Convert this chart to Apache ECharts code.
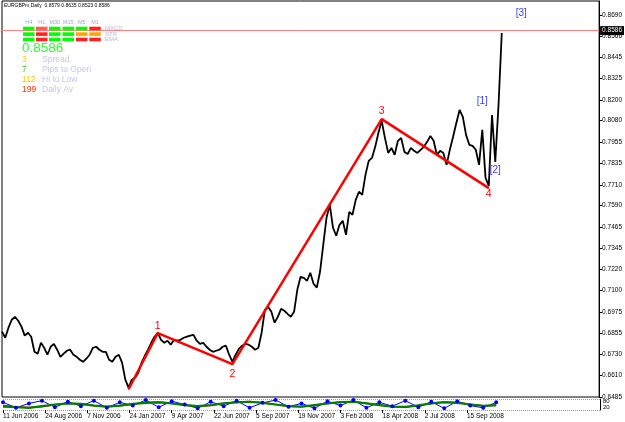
<!DOCTYPE html>
<html>
<head>
<meta charset="utf-8">
<script src="https://cdn.jsdelivr.net/npm/echarts@6.0.0/dist/echarts.min.js"></script>
<style>
  html, body { margin: 0; padding: 0; background: #fff; }
  #main { width: 625px; height: 422px; }
</style>
</head>
<body>
<div id="main"></div>
<script>
// EURGBP daily closes, one value every 4 trading days
var closes = [
  0.6862, 0.6827, 0.6885, 0.6931, 0.6948, 0.6925, 0.6891, 0.6839, 0.6856, 0.6833,
  0.6746, 0.6735, 0.6798, 0.6769, 0.6729, 0.6775, 0.6792, 0.6758, 0.6717, 0.6735,
  0.6752, 0.6758, 0.6729, 0.6717, 0.6700, 0.6688, 0.6706, 0.6729, 0.6769, 0.6775,
  0.6758, 0.6746, 0.6746, 0.6700, 0.6688, 0.6717, 0.6729, 0.6683, 0.6585, 0.6539,
  0.6585, 0.6596, 0.6625, 0.6683, 0.6723, 0.6758, 0.6798, 0.6833, 0.6856, 0.6815,
  0.6798, 0.6810, 0.6787, 0.6815, 0.6810, 0.6815, 0.6827, 0.6833, 0.6839, 0.6844,
  0.6810, 0.6792, 0.6798, 0.6775, 0.6758, 0.6746, 0.6752, 0.6758, 0.6775, 0.6781,
  0.6729, 0.6688, 0.6729, 0.6763, 0.6781, 0.6792, 0.6787, 0.6775, 0.6758, 0.6769,
  0.6856, 0.6988, 0.7006, 0.6977, 0.6914, 0.6948, 0.6994, 0.6983, 0.6965, 0.6948,
  0.6977, 0.7104, 0.7179, 0.7173, 0.7156, 0.7202, 0.7139, 0.7116, 0.7208, 0.7364,
  0.7520, 0.7595, 0.7462, 0.7416, 0.7479, 0.7502, 0.7421, 0.7554, 0.7537, 0.7623,
  0.7670, 0.7652, 0.7767, 0.7848, 0.7865, 0.7929, 0.8010, 0.8079, 0.7981, 0.7894,
  0.7923, 0.7883, 0.7964, 0.7981, 0.7900, 0.7888, 0.7923, 0.7906, 0.7894, 0.7912,
  0.7929, 0.7958, 0.7992, 0.7964, 0.7883, 0.7906, 0.7894, 0.7825, 0.7912, 0.7987,
  0.8067, 0.8142, 0.8102, 0.7998, 0.7941, 0.7935, 0.7912, 0.7825, 0.8027, 0.7750,
  0.7704, 0.8113, 0.7842, 0.8171, 0.8586
];
var lastPrice = 0.8586;

var dateLabels = ['11 Jun 2006', '24 Aug 2006', '7 Nov 2006', '24 Jan 2007', '9 Apr 2007', '22 Jun 2007',
  '5 Sep 2007', '19 Nov 2007', '3 Feb 2008', '18 Apr 2008', '2 Jul 2008', '15 Sep 2008'];
var priceTicks = ['0.8690', '0.8566', '0.8445', '0.8325', '0.8200', '0.8080', '0.7955', '0.7835', '0.7710',
  '0.7590', '0.7465', '0.7345', '0.7220', '0.7100', '0.6975', '0.6855', '0.6730', '0.6610', '0.6485'];

// elliott wave pivots (slot index / price)
var waveIndex = [39, 48, 71, 117, 150];
var waveValue = [0.6530, 0.6854, 0.6675, 0.8089, 0.7691];
var waveNames = ['', '1', '2', '3', '4'];
// sub-wave marks
var subIndex = [148, 152, 160];
var subValue = [0.8190, 0.7796, 0.8700];
var subNames = ['[1]', '[2]', '[3]'];

// oscillator pane, one value every 4 slots
var oscGreen = [30, 25, 20, 35, 50, 60, 55, 40, 30, 40, 55, 65, 70, 60, 45, 35, 45, 60, 70, 75, 65, 50, 35, 30, 45, 60, 72, 75, 60, 45, 30, 28, 42, 60, 72, 65, 50, 38, 45];
var oscRed = [40, 30, 22, 30, 48, 62, 55, 42, 30, 38, 52, 68, 72, 62, 45, 35, 42, 58, 72, 78, 66, 50, 35, 30, 42, 58, 70, 76, 62, 46, 32, 26, 40, 58, 70, 68, 52, 38, 42];
var oscBlue = [70, 20, 60, 85, 25, 75, 35, 85, 20, 70, 40, 90, 25, 80, 50, 15, 75, 35, 85, 20, 65, 90, 30, 60, 15, 80, 40, 90, 20, 70, 35, 85, 25, 75, 15, 80, 40, 20, 70];

// trend panel (top left)
var tfNames = ['H4', 'H1', 'M30', 'M15', 'M5', 'M1'];
var rowNames = ['MACD', 'STR', 'EMA'];
var signalColors = [
  ['#00ff00', '#ff5a5a', '#00ff00', '#00ff00', '#00ff00', '#ff2020'],
  ['#00ff00', '#ff2020', '#00ff00', '#00ff00', '#ffa500', '#ffa500'],
  ['#00ff00', '#ff2020', '#00ff00', '#00ff00', '#ff2020', '#ff2020']
];
var statNums = ['3', '7', '112', '199'];
var statNames = ['Spread', 'Pips to Open', 'Hi to Low', 'Daily Av'];
var statColors = ['#ffcc00', '#33cc33', '#ffcc00', '#ff3300'];

var barCount = 185;   // slots incl. the empty shift area on the right
var labelEvery = 13;
var oscEvery = 4;
var font = 'Liberation Sans, Arial, sans-serif';

var cats = [];
for (var i = 0; i < barCount; i++) cats.push(i);

function isDateSlot(idx) {
  return idx % labelEvery === 0 && idx / labelEvery < dateLabels.length;
}

var wavePos = ['bottom', 'top', 'bottom', 'top', 'bottom'];
var waveDist = [0, 1, 4, 2, 0];
var waveData = closes.map(function () { return null; });
waveIndex.forEach(function (idx, k) {
  waveData[idx] = {
    value: waveValue[k],
    label: { show: waveNames[k] !== '', formatter: waveNames[k], position: wavePos[k], distance: waveDist[k] }
  };
});

function oscData(arr) {
  return arr.map(function (v, k) { return [k * oscEvery, v]; });
}

var tickVals = priceTicks.map(function (t) { return parseFloat(t); });

// top-left panel graphics
var graphics = [];
graphics.push({
  type: 'text', left: 4, top: 3, z: 100,
  style: { text: 'EURGBPm,Daily  0.8579 0.8635 0.8523 0.8586', font: '5px ' + font, fill: '#000' }
});
var colX = [23, 36, 49, 62.5, 76, 89.3];
var rowY = [26.7, 32.3, 37.7];
tfNames.forEach(function (n, c) {
  graphics.push({
    type: 'text', z: 100, x: colX[c] + 5.8, y: 22,
    style: { text: n, font: '5.5px ' + font, fill: '#a0a6d6', align: 'center', verticalAlign: 'middle' }
  });
});
signalColors.forEach(function (row, r) {
  row.forEach(function (col, c) {
    graphics.push({ type: 'rect', z: 100, shape: { x: colX[c], y: rowY[r], width: 11.5, height: 3.6 }, style: { fill: col } });
  });
  graphics.push({
    type: 'text', z: 100, x: 105, y: rowY[r] + 1.8,
    style: { text: rowNames[r], font: '6px ' + font, fill: '#b4b8dc', verticalAlign: 'middle' }
  });
});
graphics.push({
  type: 'text', z: 100, x: 22, y: 48.5,
  style: { text: lastPrice.toFixed(4), font: '13.5px ' + font, fill: '#2bff2b', verticalAlign: 'middle' }
});
statNums.forEach(function (n, k) {
  graphics.push({
    type: 'text', z: 100, x: 22, y: 60 + k * 10,
    style: { text: n, font: '8.5px ' + font, fill: statColors[k], verticalAlign: 'middle' }
  });
  graphics.push({
    type: 'text', z: 100, x: 42, y: 60 + k * 10,
    style: { text: statNames[k], font: '8.5px ' + font, fill: '#c4c6e4', verticalAlign: 'middle' }
  });
});

var chart = echarts.init(document.getElementById('main'));
chart.setOption({
  animation: false,
  backgroundColor: '#fff',
  graphic: graphics,
  grid: [
    { left: 2, right: 25, top: 1, height: 396, show: true, borderColor: '#000', borderWidth: 1 },
    { left: 2, right: 25, top: 399, height: 11 }
  ],
  xAxis: [
    { gridIndex: 0, type: 'category', data: cats, boundaryGap: false, show: false },
    {
      gridIndex: 1, type: 'category', data: cats, boundaryGap: false,
      axisLine: { show: false },
      axisTick: { show: true, interval: isDateSlot, length: 3, lineStyle: { color: '#000' } },
      axisLabel: {
        interval: isDateSlot, align: 'left', margin: 3, fontSize: 6.5, color: '#000', fontFamily: font,
        formatter: function (v, idx) { return dateLabels[idx / labelEvery]; }
      }
    }
  ],
  yAxis: [
    {
      gridIndex: 0, type: 'value', position: 'right', min: 0.6485, max: 0.8771,
      axisLine: { show: true, lineStyle: { color: '#000' } },
      axisTick: { show: true, length: 3, customValues: tickVals, lineStyle: { color: '#000' } },
      axisLabel: {
        customValues: tickVals, margin: 3, fontSize: 6.5, color: '#000', fontFamily: font,
        formatter: function (v) { return v.toFixed(4); }
      },
      splitLine: { show: false }
    },
    {
      gridIndex: 1, type: 'value', position: 'right', min: 0, max: 100, interval: 100,
      axisLine: { show: true, lineStyle: { color: '#000' } },
      axisTick: { show: false },
      axisLabel: { customValues: [80, 20], margin: 3, fontSize: 6, color: '#000', fontFamily: font },
      splitLine: { show: true, lineStyle: { color: '#999', type: 'dotted' } }
    }
  ],
  series: [
    {
      type: 'line', xAxisIndex: 0, yAxisIndex: 0, data: closes, showSymbol: false,
      lineStyle: { color: '#000', width: 1.8 }, itemStyle: { color: '#000' }, z: 2,
      markLine: {
        silent: true, symbol: ['none', 'none'],
        lineStyle: { color: '#ff8080', width: 1, type: 'solid' },
        label: {
          position: 'end', distance: 1, formatter: lastPrice.toFixed(4), color: '#fff',
          backgroundColor: '#000', padding: [1, 2], fontSize: 6.5, fontFamily: font
        },
        data: [{ yAxis: lastPrice }]
      },
      markPoint: {
        symbol: 'circle', symbolSize: 1, itemStyle: { color: 'rgba(0,0,0,0)' },
        label: { show: true, position: 'inside', formatter: '{b}', color: '#3c3cff', fontSize: 10, fontFamily: font },
        data: subIndex.map(function (idx, k) { return { name: subNames[k], coord: [idx, subValue[k]] }; })
      }
    },
    {
      type: 'line', xAxisIndex: 0, yAxisIndex: 0, data: waveData, connectNulls: true,
      symbol: 'circle', symbolSize: 1, itemStyle: { color: '#ff0000' },
      lineStyle: { color: '#ff0000', width: 2.5 }, z: 3,
      label: { color: '#ff0000', fontSize: 10.5, fontFamily: font }
    },
    {
      type: 'line', xAxisIndex: 1, yAxisIndex: 1, data: oscData(oscRed), showSymbol: false,
      lineStyle: { color: '#ff0000', width: 1.5 }
    },
    {
      type: 'line', xAxisIndex: 1, yAxisIndex: 1, data: oscData(oscBlue), symbol: 'emptyCircle', symbolSize: 2,
      itemStyle: { color: '#0000ff' }, lineStyle: { color: '#0000ff', width: 1 }
    },
    {
      type: 'line', xAxisIndex: 1, yAxisIndex: 1, data: oscData(oscGreen), showSymbol: false,
      lineStyle: { color: '#008000', width: 2.2 }
    }
  ]
});
</script>
</body>
</html>
